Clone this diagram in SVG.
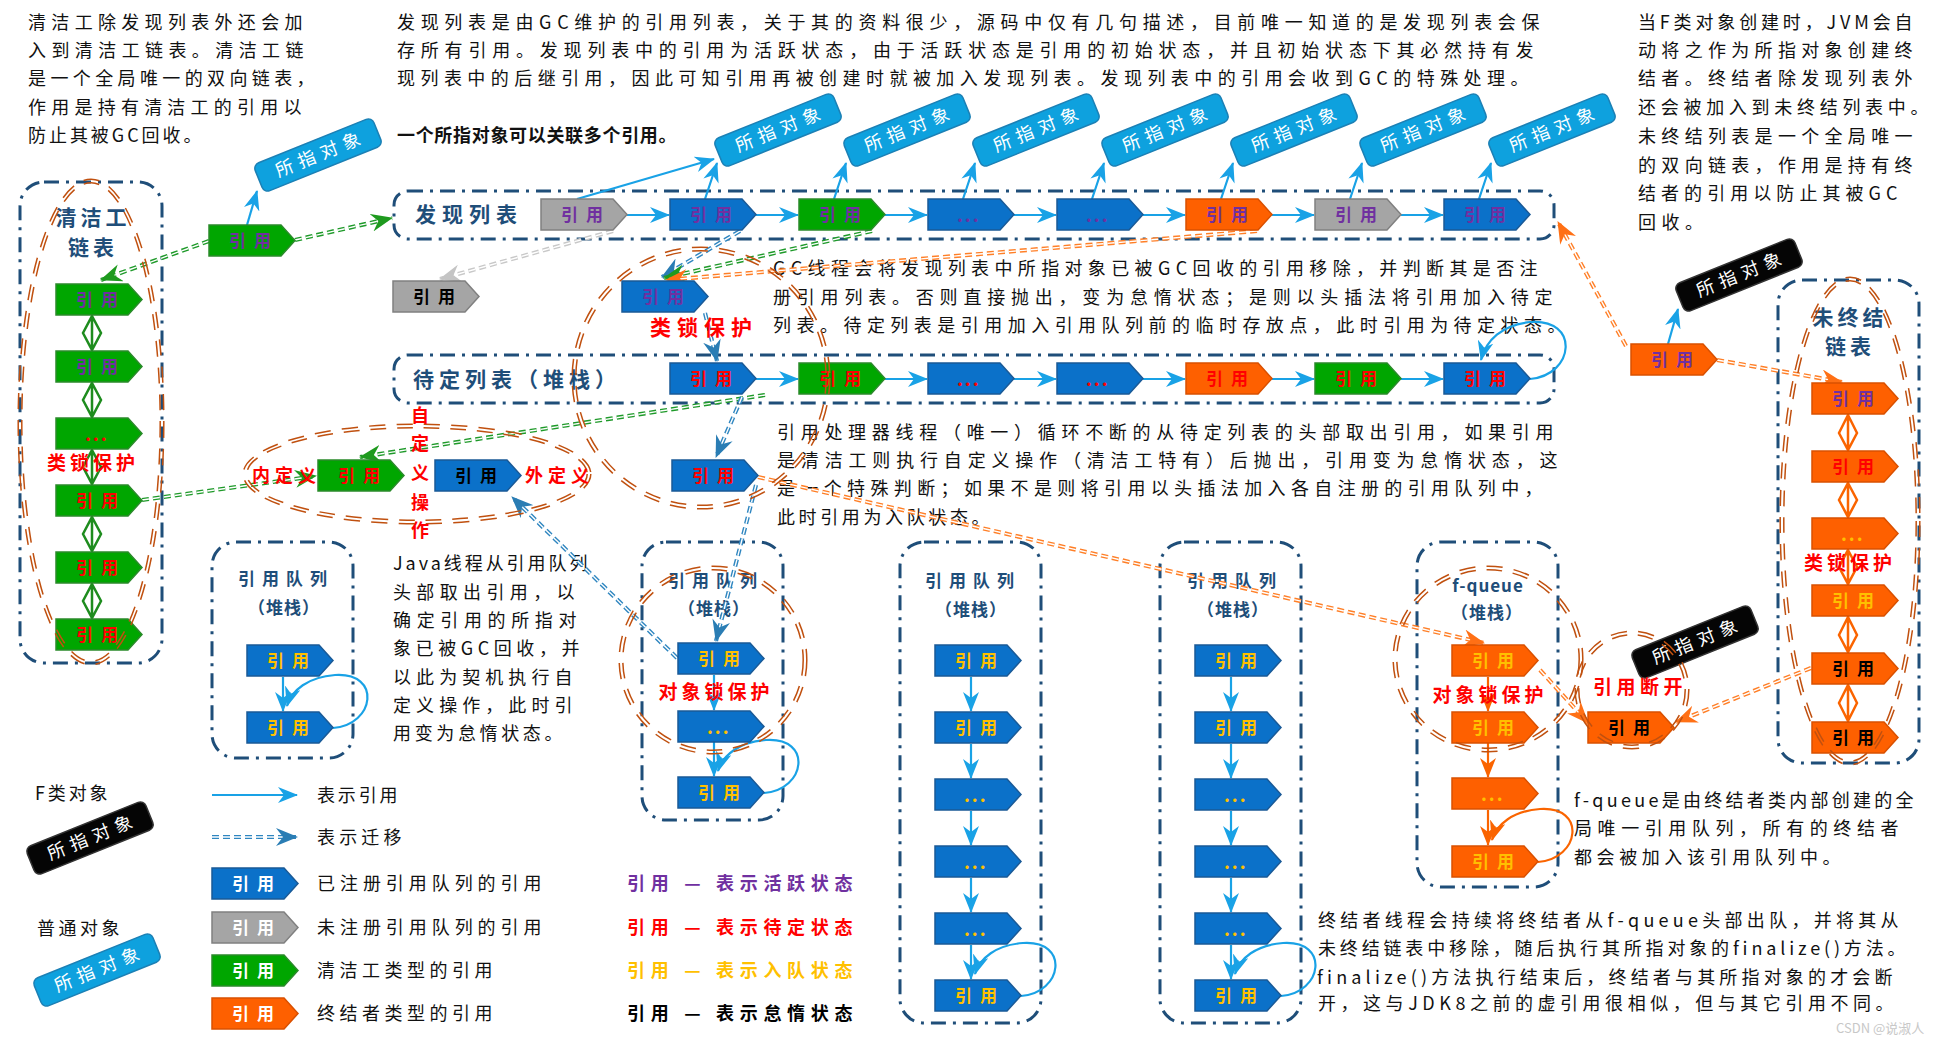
<svg xmlns="http://www.w3.org/2000/svg" width="1946" height="1038" viewBox="0 0 1946 1038">
<style>
text{font-family:"Noto Sans CJK SC","Noto Sans",sans-serif}
.p{font-size:18px;fill:#111;letter-spacing:5.5px}
.pb{font-weight:700}
.lbl{font-size:17px;font-weight:700;letter-spacing:8px}
.dots{font-size:18px;font-weight:700;letter-spacing:2px}
.ttl{font-size:21px;font-weight:700;fill:#1f4e79}
.qt{font-size:17px;font-weight:700;fill:#1f4e79;text-anchor:middle}
.rd{fill:#ff0000;font-weight:700}
.cont{fill:none;stroke:#1f4e79;stroke-width:3;stroke-dasharray:15 7 3 7}
.blue{fill:#0b71c9;stroke:#1a5a97;stroke-width:1.5}
.gray{fill:#a5a5a5;stroke:#808080;stroke-width:1.5}
.green{fill:#00a600;stroke:#2b8a2b;stroke-width:1.5}
.orange{fill:#fe6000;stroke:#d95000;stroke-width:1.5}
.obj{fill:#0ea1de;stroke:#1c80b5;stroke-width:1.5}
.objk{fill:#050505;stroke:#333;stroke-width:1.5}
.ot{font-size:18px;fill:#fff;text-anchor:middle;letter-spacing:6px}
.cp{fill:#7030a0}.cr{fill:#ff0000}.cy{fill:#ffc000}.ck{fill:#000}.cw{fill:#fff}
.ar{fill:none;stroke:#19a2e6;stroke-width:2.2}
.aro{fill:none;stroke:#fa6400;stroke-width:2.2}
.mw{fill:none;stroke:#fff;stroke-width:1.4;stroke-dasharray:7 4}
.mt{fill:none;stroke:#2f86c0;stroke-width:4.2;stroke-dasharray:7 4}
.mgn{fill:none;stroke:#1f9a2a;stroke-width:4.2;stroke-dasharray:7 4}
.mo{fill:none;stroke:#ff7f27;stroke-width:4.2;stroke-dasharray:7 4}
.my{fill:none;stroke:#c8c8c8;stroke-width:4.2;stroke-dasharray:7 4}
.dd{fill:none;stroke:#c0500f;stroke-width:1.5;stroke-dasharray:16 11}
.dg{fill:#fff;stroke:#1e8c1e;stroke-width:2.5}
.do{fill:#fff;stroke:#fa6400;stroke-width:2.5}
</style>
<defs>
<path id="tag" d="M0,0 H72 L86,15.5 L72,31 H0 Z"/>
<marker id="mb" viewBox="0 0 20 16" refX="19" refY="8" markerWidth="20" markerHeight="16" markerUnits="userSpaceOnUse" orient="auto"><path d="M0,0 L20,8 L0,16 L6,8 Z" fill="#19a2e6"/></marker>
<marker id="mor" viewBox="0 0 20 16" refX="19" refY="8" markerWidth="20" markerHeight="16" markerUnits="userSpaceOnUse" orient="auto"><path d="M0,0 L20,8 L0,16 L6,8 Z" fill="#fa6400"/></marker>
<marker id="xt" viewBox="0 0 22 18" refX="21" refY="9" markerWidth="22" markerHeight="18" markerUnits="userSpaceOnUse" orient="auto"><path d="M0,0 L22,9 L0,18 L7,9 Z" fill="#2a7db4"/></marker>
<marker id="xg" viewBox="0 0 22 18" refX="21" refY="9" markerWidth="22" markerHeight="18" markerUnits="userSpaceOnUse" orient="auto"><path d="M0,0 L22,9 L0,18 L7,9 Z" fill="#1e9a1e"/></marker>
<marker id="xo" viewBox="0 0 22 18" refX="21" refY="9" markerWidth="22" markerHeight="18" markerUnits="userSpaceOnUse" orient="auto"><path d="M0,0 L22,9 L0,18 L7,9 Z" fill="#ff7015"/></marker>
<marker id="xy" viewBox="0 0 22 18" refX="21" refY="9" markerWidth="22" markerHeight="18" markerUnits="userSpaceOnUse" orient="auto"><path d="M0,0 L22,9 L0,18 L7,9 Z" fill="#c4c4c4"/></marker>
</defs>
<rect width="1946" height="1038" fill="#fff"/>

<!-- containers -->
<g id="containers">
<rect id="discovered-list" class="cont" x="394" y="191" width="1160" height="48" rx="14"/>
<rect id="pending-list" class="cont" x="394" y="355" width="1160" height="48" rx="14"/>
<rect id="cleaner-chain" class="cont" x="20" y="182" width="142" height="481" rx="24"/>
<rect id="unfinalized-chain" class="cont" x="1778" y="280" width="141" height="483" rx="24"/>
<rect id="queue1" class="cont" x="212" y="542" width="141" height="216" rx="24"/>
<rect id="queue2" class="cont" x="642" y="542" width="141" height="278" rx="24"/>
<rect id="queue3" class="cont" x="900" y="542" width="141" height="481" rx="24"/>
<rect id="queue4" class="cont" x="1160" y="542" width="141" height="481" rx="24"/>
<rect id="fqueue" class="cont" x="1417" y="542" width="141" height="345" rx="24"/>
<text class="ttl" x="415" y="222" letter-spacing="6">发现列表</text>
<text class="ttl" x="413" y="387" letter-spacing="5">待定列表（堆栈）</text>
<text class="ttl" x="93" y="225" text-anchor="middle" font-size="19" letter-spacing="4">清洁工</text>
<text class="ttl" x="93" y="255" text-anchor="middle" font-size="19" letter-spacing="4">链表</text>
<text class="ttl" x="1850" y="325" text-anchor="middle" font-size="19" letter-spacing="4">未终结</text>
<text class="ttl" x="1850" y="354" text-anchor="middle" font-size="19" letter-spacing="4">链表</text>
<text class="qt" x="286" y="585" letter-spacing="7">引用队列</text>
<text class="qt" x="284" y="614" letter-spacing="1">（堆栈）</text>
<text class="qt" x="716" y="587" letter-spacing="7">引用队列</text>
<text class="qt" x="714" y="615" letter-spacing="1">（堆栈）</text>
<text class="qt" x="973" y="587" letter-spacing="7">引用队列</text>
<text class="qt" x="971" y="616" letter-spacing="1">（堆栈）</text>
<text class="qt" x="1235" y="587" letter-spacing="7">引用队列</text>
<text class="qt" x="1233" y="616" letter-spacing="1">（堆栈）</text>
<text class="qt" x="1488" y="592" font-weight="400" letter-spacing="1">f-queue</text>
<text class="qt" x="1487" y="619" letter-spacing="1">（堆栈）</text>
</g>

<!-- paragraphs -->
<g id="notes">
<text class="p" x="28" y="29" textLength="280" lengthAdjust="spacing">清洁工除发现列表外还会加</text>
<text class="p" x="28" y="57" textLength="281" lengthAdjust="spacing">入到清洁工链表。清洁工链</text>
<text class="p" x="28" y="85" textLength="292" lengthAdjust="spacing">是一个全局唯一的双向链表，</text>
<text class="p" x="28" y="114" textLength="279" lengthAdjust="spacing">作用是持有清洁工的引用以</text>
<text class="p" x="28" y="142" textLength="179" lengthAdjust="spacing">防止其被GC回收。</text>

<text class="p" x="397" y="29" textLength="1148" lengthAdjust="spacing">发现列表是由GC维护的引用列表，关于其的资料很少，源码中仅有几句描述，目前唯一知道的是发现列表会保</text>
<text class="p" x="397" y="57" textLength="1142" lengthAdjust="spacing">存所有引用。发现列表中的引用为活跃状态，由于活跃状态是引用的初始状态，并且初始状态下其必然持有发</text>
<text class="p" x="397" y="85" textLength="1137" lengthAdjust="spacing">现列表中的后继引用，因此可知引用再被创建时就被加入发现列表。发现列表中的引用会收到GC的特殊处理。</text>
<text class="p pb" x="397" y="142" textLength="285" lengthAdjust="spacing">一个所指对象可以关联多个引用。</text>

<text class="p" x="1638" y="29" textLength="280" lengthAdjust="spacing">当F类对象创建时，JVM会自</text>
<text class="p" x="1638" y="57" textLength="280" lengthAdjust="spacing">动将之作为所指对象创建终</text>
<text class="p" x="1638" y="85" textLength="280" lengthAdjust="spacing">结者。终结者除发现列表外</text>
<text class="p" x="1638" y="114" textLength="296" lengthAdjust="spacing">还会被加入到未终结列表中。</text>
<text class="p" x="1638" y="143" textLength="280" lengthAdjust="spacing">未终结列表是一个全局唯一</text>
<text class="p" x="1638" y="172" textLength="280" lengthAdjust="spacing">的双向链表，作用是持有终</text>
<text class="p" x="1638" y="200" textLength="265" lengthAdjust="spacing">结者的引用以防止其被GC</text>
<text class="p" x="1638" y="229">回收。</text>

<text class="p" x="773" y="275" textLength="770" lengthAdjust="spacing">GC线程会将发现列表中所指对象已被GC回收的引用移除，并判断其是否注</text>
<text class="p" x="773" y="304" textLength="785" lengthAdjust="spacing">册引用列表。否则直接抛出，变为怠惰状态；是则以头插法将引用加入待定</text>
<text class="p" x="773" y="332" textLength="798" lengthAdjust="spacing">列表。待定列表是引用加入引用队列前的临时存放点，此时引用为待定状态。</text>

<text class="p" x="777" y="439" textLength="782" lengthAdjust="spacing">引用处理器线程（唯一）循环不断的从待定列表的头部取出引用，如果引用</text>
<text class="p" x="777" y="467" textLength="786" lengthAdjust="spacing">是清洁工则执行自定义操作（清洁工特有）后抛出，引用变为怠惰状态，这</text>
<text class="p" x="777" y="495" textLength="771" lengthAdjust="spacing">是一个特殊判断；如果不是则将引用以头插法加入各自注册的引用队列中，</text>
<text class="p" x="777" y="524" textLength="218" lengthAdjust="spacing">此时引用为入队状态。</text>

<text class="p" x="393" y="570" textLength="200" lengthAdjust="spacing">Java线程从引用队列</text>
<text class="p" x="393" y="599" textLength="187" lengthAdjust="spacing">头部取出引用，以</text>
<text class="p" x="393" y="627" textLength="189" lengthAdjust="spacing">确定引用的所指对</text>
<text class="p" x="393" y="655" textLength="192" lengthAdjust="spacing">象已被GC回收，并</text>
<text class="p" x="393" y="684" textLength="185" lengthAdjust="spacing">以此为契机执行自</text>
<text class="p" x="393" y="712" textLength="185" lengthAdjust="spacing">定义操作，此时引</text>
<text class="p" x="393" y="740" textLength="175" lengthAdjust="spacing">用变为怠惰状态。</text>

<text class="p" x="1574" y="807" textLength="345" lengthAdjust="spacing">f-queue是由终结者类内部创建的全</text>
<text class="p" x="1574" y="835" textLength="330" lengthAdjust="spacing">局唯一引用队列，所有的终结者</text>
<text class="p" x="1574" y="864" textLength="272" lengthAdjust="spacing">都会被加入该引用队列中。</text>

<text class="p" x="1318" y="927" textLength="586" lengthAdjust="spacing">终结者线程会持续将终结者从f-queue头部出队，并将其从</text>
<text class="p" x="1318" y="955" textLength="593" lengthAdjust="spacing">未终结链表中移除，随后执行其所指对象的finalize()方法。</text>
<text class="p" x="1317" y="984" textLength="581" lengthAdjust="spacing">finalize()方法执行结束后，终结者与其所指对象的才会断</text>
<text class="p" x="1318" y="1010" textLength="581" lengthAdjust="spacing">开，这与JDK8之前的虚引用很相似，但与其它引用不同。</text>
</g>

<!-- connectors -->
<g id="connectors">
<path class="ar" marker-end="url(#mb)" d="M627,215 H669"/>
<path class="ar" marker-end="url(#mb)" d="M756,215 H798"/>
<path class="ar" marker-end="url(#mb)" d="M885,215 H927"/>
<path class="ar" marker-end="url(#mb)" d="M1014,215 H1056"/>
<path class="ar" marker-end="url(#mb)" d="M1143,215 H1185"/>
<path class="ar" marker-end="url(#mb)" d="M1272,215 H1314"/>
<path class="ar" marker-end="url(#mb)" d="M1401,215 H1443"/>
<path class="ar" marker-end="url(#mb)" d="M756,379 H798"/>
<path class="ar" marker-end="url(#mb)" d="M885,379 H927"/>
<path class="ar" marker-end="url(#mb)" d="M1014,379 H1056"/>
<path class="ar" marker-end="url(#mb)" d="M1143,379 H1185"/>
<path class="ar" marker-end="url(#mb)" d="M1272,379 H1314"/>
<path class="ar" marker-end="url(#mb)" d="M1401,379 H1443"/>
<path class="ar" marker-end="url(#mb)" d="M1530,379 C1575,375 1580,318 1530,322 C1502,325 1486,340 1481,360"/>
<!-- to referents -->
<path class="ar" marker-end="url(#mb)" d="M577,199 L714,159"/>
<path class="ar" marker-end="url(#mb)" d="M705,199 L717,163"/>
<path class="ar" marker-end="url(#mb)" d="M834,199 L846,163"/>
<path class="ar" marker-end="url(#mb)" d="M963,199 L975,163"/>
<path class="ar" marker-end="url(#mb)" d="M1092,199 L1104,163"/>
<path class="ar" marker-end="url(#mb)" d="M1221,199 L1233,163"/>
<path class="ar" marker-end="url(#mb)" d="M1350,199 L1362,163"/>
<path class="ar" marker-end="url(#mb)" d="M1479,199 L1491,163"/>
<path class="ar" marker-end="url(#mb)" d="M247,225 L257,191"/>
<path class="ar" marker-end="url(#mb)" d="M1668,344 L1678,309"/>
<!-- queues -->
<path class="ar" marker-end="url(#mb)" d="M283,677 V711"/>
<path class="ar" marker-end="url(#mb)" d="M333,728 C375,725 382,672 335,675 C308,677 292,690 287,706"/>
<path class="ar" marker-end="url(#mb)" d="M714,675 V710"/>
<path class="ar" marker-end="url(#mb)" d="M714,742 V776"/>
<path class="ar" marker-end="url(#mb)" d="M764,793 C806,790 813,737 766,740 C739,742 723,755 718,771"/>
<path class="ar" marker-end="url(#mb)" d="M971,677 V711"/>
<path class="ar" marker-end="url(#mb)" d="M971,744 V778"/>
<path class="ar" marker-end="url(#mb)" d="M971,811 V845"/>
<path class="ar" marker-end="url(#mb)" d="M971,878 V912"/>
<path class="ar" marker-end="url(#mb)" d="M971,945 V979"/>
<path class="ar" marker-end="url(#mb)" d="M1021,996 C1063,993 1070,940 1023,943 C996,945 980,958 975,974"/>
<path class="ar" marker-end="url(#mb)" d="M1231,677 V711"/>
<path class="ar" marker-end="url(#mb)" d="M1231,744 V778"/>
<path class="ar" marker-end="url(#mb)" d="M1231,811 V845"/>
<path class="ar" marker-end="url(#mb)" d="M1231,878 V912"/>
<path class="ar" marker-end="url(#mb)" d="M1231,945 V979"/>
<path class="ar" marker-end="url(#mb)" d="M1281,996 C1323,993 1330,940 1283,943 C1256,945 1240,958 1235,974"/>
<path class="aro" marker-end="url(#mor)" d="M1488,677 V711"/>
<path class="aro" marker-end="url(#mor)" d="M1488,743 V777"/>
<path class="aro" marker-end="url(#mor)" d="M1488,810 V845"/>
<path class="aro" marker-end="url(#mor)" d="M1538,862 C1580,859 1587,806 1540,809 C1513,811 1497,824 1492,840"/>
<!-- migrations -->
<path class="my" d="M613,231 L440,279"/><path class="mw" marker-end="url(#xy)" d="M613,231 L440,279"/>
<path class="mgn" d="M295,240 L392,218"/><path class="mw" marker-end="url(#xg)" d="M295,240 L392,218"/>
<path class="mgn" d="M209,241 L101,280"/><path class="mw" marker-end="url(#xg)" d="M209,241 L101,280"/>
<path class="mt" d="M740,231 L662,277"/><path class="mw" marker-end="url(#xt)" d="M740,231 L662,277"/>
<path class="mgn" d="M872,231 L664,278"/><path class="mw" marker-end="url(#xg)" d="M872,231 L664,278"/>
<path class="mo" d="M1257,231 L666,280"/><path class="mw" marker-end="url(#xo)" d="M1257,231 L666,280"/>
<path class="mt" d="M705,313 L717,361"/><path class="mw" marker-end="url(#xt)" d="M705,313 L717,361"/>
<path class="mgn" d="M765,395 L360,457"/><path class="mw" marker-end="url(#xg)" d="M765,395 L360,457"/>
<path class="mgn" d="M142,500 L316,476"/><path class="mw" marker-end="url(#xg)" d="M142,500 L316,476"/>
<path class="mt" d="M742,397 L716,457"/><path class="mw" marker-end="url(#xt)" d="M742,397 L716,457"/>
<path class="mt" d="M756,485 L716,641"/><path class="mw" marker-end="url(#xt)" d="M756,485 L716,641"/>
<path class="mo" d="M758,477 L1484,643"/><path class="mw" marker-end="url(#xo)" d="M758,477 L1484,643"/>
<path class="mt" d="M677,658 L512,497"/><path class="mw" marker-end="url(#xt)" d="M677,658 L512,497"/>
<path class="mo" d="M1626,346 L1558,222"/><path class="mw" marker-end="url(#xo)" d="M1626,346 L1558,222"/>
<path class="mo" d="M1717,360 L1842,382"/><path class="mw" marker-end="url(#xo)" d="M1717,360 L1842,382"/>
<path class="mo" d="M1540,670 L1588,723"/><path class="mw" marker-end="url(#xo)" d="M1540,670 L1588,723"/>
<path class="mo" d="M1811,668 L1676,722"/><path class="mw" marker-end="url(#xo)" d="M1811,668 L1676,722"/>
<!-- chain links -->
<path class="dg" d="M92,316 L101,333 L92,350 L83,333 Z M92,318 V348"/>
<path class="dg" d="M92,383 L101,400 L92,417 L83,400 Z M92,385 V415"/>
<path class="dg" d="M92,450 L101,467 L92,484 L83,467 Z M92,452 V482"/>
<path class="dg" d="M92,517 L101,534 L92,551 L83,534 Z M92,519 V549"/>
<path class="dg" d="M92,584 L101,601 L92,618 L83,601 Z M92,586 V616"/>
<path class="do" d="M1848,415 L1857,433 L1848,450 L1839,433 Z M1848,417 V448"/>
<path class="do" d="M1848,483 L1857,500 L1848,517 L1839,500 Z M1848,485 V515"/>
<path class="do" d="M1848,550 L1857,567 L1848,584 L1839,567 Z M1848,552 V582"/>
<path class="do" d="M1848,617 L1857,635 L1848,652 L1839,635 Z M1848,619 V650"/>
<path class="do" d="M1848,685 L1857,703 L1848,721 L1839,703 Z M1848,687 V719"/>
</g>

<!-- discovered list nodes -->
<g id="d1"><use href="#tag" x="541" y="199" class="gray"/><text class="lbl cp" x="561" y="221">引用</text></g>
<g id="d2"><use href="#tag" x="670" y="199" class="blue"/><text class="lbl cp" x="690" y="221">引用</text></g>
<g id="d3"><use href="#tag" x="799" y="199" class="green"/><text class="lbl cp" x="819" y="221">引用</text></g>
<g id="d4"><use href="#tag" x="928" y="199" class="blue"/><text class="dots cp" x="957" y="222">...</text></g>
<g id="d5"><use href="#tag" x="1057" y="199" class="blue"/><text class="dots cp" x="1086" y="222">...</text></g>
<g id="d6"><use href="#tag" x="1186" y="199" class="orange"/><text class="lbl cp" x="1206" y="221">引用</text></g>
<g id="d7"><use href="#tag" x="1315" y="199" class="gray"/><text class="lbl cp" x="1335" y="221">引用</text></g>
<g id="d8"><use href="#tag" x="1444" y="199" class="blue"/><text class="lbl cp" x="1464" y="221">引用</text></g>

<!-- pending list nodes -->
<g id="p1"><use href="#tag" x="670" y="363" class="blue"/><text class="lbl cr" x="690" y="385">引用</text></g>
<g id="p2"><use href="#tag" x="799" y="363" class="green"/><text class="lbl cr" x="819" y="385">引用</text></g>
<g id="p3"><use href="#tag" x="928" y="363" class="blue"/><text class="dots cr" x="957" y="386">...</text></g>
<g id="p4"><use href="#tag" x="1057" y="363" class="blue"/><text class="dots cr" x="1086" y="386">...</text></g>
<g id="p5"><use href="#tag" x="1186" y="363" class="orange"/><text class="lbl cr" x="1206" y="385">引用</text></g>
<g id="p6"><use href="#tag" x="1315" y="363" class="green"/><text class="lbl cr" x="1335" y="385">引用</text></g>
<g id="p7"><use href="#tag" x="1444" y="363" class="blue"/><text class="lbl cr" x="1464" y="385">引用</text></g>

<!-- referents -->
<g id="o0" transform="translate(318,155) rotate(-22)"><rect class="obj" x="-64" y="-15" width="128" height="30" rx="6"/><text class="ot" x="3" y="6">所指对象</text></g>
<g id="o1" transform="translate(778,130) rotate(-22)"><rect class="obj" x="-64" y="-15" width="128" height="30" rx="6"/><text class="ot" x="3" y="6">所指对象</text></g>
<g id="o2" transform="translate(907,130) rotate(-22)"><rect class="obj" x="-64" y="-15" width="128" height="30" rx="6"/><text class="ot" x="3" y="6">所指对象</text></g>
<g id="o3" transform="translate(1036,130) rotate(-22)"><rect class="obj" x="-64" y="-15" width="128" height="30" rx="6"/><text class="ot" x="3" y="6">所指对象</text></g>
<g id="o4" transform="translate(1165,130) rotate(-22)"><rect class="obj" x="-64" y="-15" width="128" height="30" rx="6"/><text class="ot" x="3" y="6">所指对象</text></g>
<g id="o5" transform="translate(1294,130) rotate(-22)"><rect class="obj" x="-64" y="-15" width="128" height="30" rx="6"/><text class="ot" x="3" y="6">所指对象</text></g>
<g id="o6" transform="translate(1423,130) rotate(-22)"><rect class="obj" x="-64" y="-15" width="128" height="30" rx="6"/><text class="ot" x="3" y="6">所指对象</text></g>
<g id="o7" transform="translate(1552,130) rotate(-22)"><rect class="obj" x="-64" y="-15" width="128" height="30" rx="6"/><text class="ot" x="3" y="6">所指对象</text></g>
<g id="ok1" transform="translate(1739,275) rotate(-22)"><rect class="objk" x="-64" y="-15" width="128" height="30" rx="6"/><text class="ot" x="3" y="6">所指对象</text></g>
<g id="ok2" transform="translate(1695,642) rotate(-22)"><rect class="objk" x="-64" y="-15" width="128" height="30" rx="6"/><text class="ot" x="3" y="6">所指对象</text></g>

<!-- other nodes -->
<g id="cleaner-ref"><use href="#tag" x="209" y="225" class="green"/><text class="lbl cp" x="229" y="247">引用</text></g>
<g id="unreg-ref"><use href="#tag" x="393" y="281" class="gray"/><text class="lbl ck" x="413" y="303">引用</text></g>
<g id="gc-ref"><use href="#tag" x="622" y="281" class="blue"/><text class="lbl cp" x="642" y="303">引用</text></g>
<g id="proc-ref"><use href="#tag" x="672" y="460" class="blue"/><text class="lbl cr" x="692" y="482">引用</text></g>
<g id="custom-in"><use href="#tag" x="318" y="460" class="green"/><text class="lbl cr" x="338" y="482">引用</text></g>
<g id="custom-out"><use href="#tag" x="435" y="460" class="blue"/><text class="lbl ck" x="455" y="482">引用</text></g>
<g id="final-ref"><use href="#tag" x="1631" y="344" class="orange"/><text class="lbl cp" x="1651" y="366">引用</text></g>
<g id="broken-ref"><use href="#tag" x="1588" y="712" class="orange"/><text class="lbl ck" x="1608" y="734">引用</text></g>

<!-- cleaner chain -->
<g id="c1"><use href="#tag" x="56" y="284" class="green"/><text class="lbl cp" x="76" y="306">引用</text></g>
<g id="c2"><use href="#tag" x="56" y="351" class="green"/><text class="lbl cp" x="76" y="373">引用</text></g>
<g id="c3"><use href="#tag" x="56" y="418" class="green"/><text class="dots cr" x="85" y="441">...</text></g>
<g id="c4"><use href="#tag" x="56" y="485" class="green"/><text class="lbl cr" x="76" y="507">引用</text></g>
<g id="c5"><use href="#tag" x="56" y="552" class="green"/><text class="lbl cr" x="76" y="574">引用</text></g>
<g id="c6"><use href="#tag" x="56" y="619" class="green"/><text class="lbl cr" x="76" y="641">引用</text></g>

<!-- unfinalized chain -->
<g id="u1"><use href="#tag" x="1812" y="383" class="orange"/><text class="lbl cp" x="1832" y="405">引用</text></g>
<g id="u2"><use href="#tag" x="1812" y="451" class="orange"/><text class="lbl cr" x="1832" y="473">引用</text></g>
<g id="u3"><use href="#tag" x="1812" y="518" class="orange"/><text class="dots cy" x="1841" y="541">...</text></g>
<g id="u4"><use href="#tag" x="1812" y="585" class="orange"/><text class="lbl cy" x="1832" y="607">引用</text></g>
<g id="u5"><use href="#tag" x="1812" y="653" class="orange"/><text class="lbl ck" x="1832" y="675">引用</text></g>
<g id="u6"><use href="#tag" x="1812" y="722" class="orange"/><text class="lbl ck" x="1832" y="744">引用</text></g>

<!-- queues -->
<g id="q1a"><use href="#tag" x="247" y="645" class="blue"/><text class="lbl cy" x="267" y="667">引用</text></g>
<g id="q1b"><use href="#tag" x="247" y="712" class="blue"/><text class="lbl cy" x="267" y="734">引用</text></g>
<g id="q2a"><use href="#tag" x="678" y="643" class="blue"/><text class="lbl cy" x="698" y="665">引用</text></g>
<g id="q2b"><use href="#tag" x="678" y="711" class="blue"/><text class="dots cy" x="707" y="734">...</text></g>
<g id="q2c"><use href="#tag" x="678" y="777" class="blue"/><text class="lbl cy" x="698" y="799">引用</text></g>
<g id="q3a"><use href="#tag" x="935" y="645" class="blue"/><text class="lbl cy" x="955" y="667">引用</text></g>
<g id="q3b"><use href="#tag" x="935" y="712" class="blue"/><text class="lbl cy" x="955" y="734">引用</text></g>
<g id="q3c"><use href="#tag" x="935" y="779" class="blue"/><text class="dots cy" x="964" y="802">...</text></g>
<g id="q3d"><use href="#tag" x="935" y="846" class="blue"/><text class="dots cy" x="964" y="869">...</text></g>
<g id="q3e"><use href="#tag" x="935" y="913" class="blue"/><text class="dots cy" x="964" y="936">...</text></g>
<g id="q3f"><use href="#tag" x="935" y="980" class="blue"/><text class="lbl cy" x="955" y="1002">引用</text></g>
<g id="q4a"><use href="#tag" x="1195" y="645" class="blue"/><text class="lbl cy" x="1215" y="667">引用</text></g>
<g id="q4b"><use href="#tag" x="1195" y="712" class="blue"/><text class="lbl cy" x="1215" y="734">引用</text></g>
<g id="q4c"><use href="#tag" x="1195" y="779" class="blue"/><text class="dots cy" x="1224" y="802">...</text></g>
<g id="q4d"><use href="#tag" x="1195" y="846" class="blue"/><text class="dots cy" x="1224" y="869">...</text></g>
<g id="q4e"><use href="#tag" x="1195" y="913" class="blue"/><text class="dots cy" x="1224" y="936">...</text></g>
<g id="q4f"><use href="#tag" x="1195" y="980" class="blue"/><text class="lbl cy" x="1215" y="1002">引用</text></g>
<g id="f1"><use href="#tag" x="1452" y="645" class="orange"/><text class="lbl cy" x="1472" y="667">引用</text></g>
<g id="f2"><use href="#tag" x="1452" y="712" class="orange"/><text class="lbl cy" x="1472" y="734">引用</text></g>
<g id="f3"><use href="#tag" x="1452" y="778" class="orange"/><text class="dots cy" x="1481" y="801">...</text></g>
<g id="f4"><use href="#tag" x="1452" y="846" class="orange"/><text class="lbl cy" x="1472" y="868">引用</text></g>

<!-- lock ellipses (double dashed) -->
<g id="locks">
<ellipse class="dd" cx="91" cy="422" rx="72.8" ry="242.8" pathLength="1054"/><ellipse class="dd" cx="91" cy="422" rx="69.2" ry="239.2" pathLength="1054"/>
<ellipse class="dd" cx="1850" cy="521" rx="69.8" ry="243.8" pathLength="1050"/><ellipse class="dd" cx="1850" cy="521" rx="66.2" ry="240.2" pathLength="1050"/>
<ellipse class="dd" cx="417" cy="474" rx="173.8" ry="49.8" pathLength="747"/><ellipse class="dd" cx="417" cy="474" rx="170.2" ry="46.2" pathLength="747"/>
<ellipse class="dd" cx="701" cy="378" rx="128.8" ry="130.8" pathLength="804"/><ellipse class="dd" cx="701" cy="378" rx="125.2" ry="127.2" pathLength="804"/>
<ellipse class="dd" cx="713" cy="660" rx="93.8" ry="93.8" pathLength="578"/><ellipse class="dd" cx="713" cy="660" rx="90.2" ry="90.2" pathLength="578"/>
<ellipse class="dd" cx="1488" cy="659" rx="94.8" ry="92.8" pathLength="578"/><ellipse class="dd" cx="1488" cy="659" rx="91.2" ry="89.2" pathLength="578"/>
<ellipse class="dd" cx="1632" cy="690" rx="56.8" ry="58.8" pathLength="352"/><ellipse class="dd" cx="1632" cy="690" rx="53.2" ry="55.2" pathLength="352"/>
</g>

<!-- red annotations -->
<g id="annotations">
<text class="rd" x="93" y="470" font-size="19" text-anchor="middle" letter-spacing="4">类锁保护</text>
<text class="rd" x="704" y="335" font-size="21" text-anchor="middle" letter-spacing="6">类锁保护</text>
<text class="rd" x="252" y="482" font-size="18" letter-spacing="5">内定义</text>
<text class="rd" x="525" y="482" font-size="18" letter-spacing="5">外定义</text>
<text class="rd" x="420" y="422" font-size="18" text-anchor="middle">自</text>
<text class="rd" x="420" y="450" font-size="18" text-anchor="middle">定</text>
<text class="rd" x="420" y="479" font-size="18" text-anchor="middle">义</text>
<text class="rd" x="420" y="509" font-size="18" text-anchor="middle">操</text>
<text class="rd" x="420" y="537" font-size="18" text-anchor="middle">作</text>
<text class="rd" x="716" y="699" font-size="19" text-anchor="middle" letter-spacing="4">对象锁保护</text>
<text class="rd" x="1490" y="702" font-size="19" text-anchor="middle" letter-spacing="4">对象锁保护</text>
<text class="rd" x="1640" y="694" font-size="19" text-anchor="middle" letter-spacing="4.5">引用断开</text>
<text class="rd" x="1850" y="570" font-size="19" text-anchor="middle" letter-spacing="4">类锁保护</text>
</g>

<!-- legend -->
<g id="legend">
<text class="p" x="35" y="800" textLength="78" lengthAdjust="spacing">F类对象</text>
<g id="leg-fobj" transform="translate(90,838) rotate(-22)"><rect class="objk" x="-64" y="-15" width="128" height="30" rx="6"/><text class="ot" x="3" y="6">所指对象</text></g>
<text class="p" x="37" y="935" textLength="88" lengthAdjust="spacing">普通对象</text>
<g id="leg-obj" transform="translate(97,970) rotate(-22)"><rect class="obj" x="-64" y="-15" width="128" height="30" rx="6"/><text class="ot" x="3" y="6">所指对象</text></g>
<path class="ar" marker-end="url(#mb)" d="M212,795 H297"/>
<text class="p" x="317" y="802" textLength="86" lengthAdjust="spacing">表示引用</text>
<path class="mt" d="M212,837 H297"/><path class="mw" marker-end="url(#xt)" d="M212,837 H297"/>
<text class="p" x="317" y="844" textLength="90" lengthAdjust="spacing">表示迁移</text>
<g id="leg-blue"><use href="#tag" x="212" y="868" class="blue"/><text class="lbl cw" x="232" y="890">引用</text></g>
<g id="leg-gray"><use href="#tag" x="212" y="912" class="gray"/><text class="lbl cw" x="232" y="934">引用</text></g>
<g id="leg-green"><use href="#tag" x="212" y="955" class="green"/><text class="lbl cw" x="232" y="977">引用</text></g>
<g id="leg-orange"><use href="#tag" x="212" y="998" class="orange"/><text class="lbl cw" x="232" y="1020">引用</text></g>
<text class="p" x="317" y="890" textLength="230" lengthAdjust="spacing">已注册引用队列的引用</text>
<text class="p" x="317" y="934" textLength="230" lengthAdjust="spacing">未注册引用队列的引用</text>
<text class="p" x="317" y="977" textLength="181" lengthAdjust="spacing">清洁工类型的引用</text>
<text class="p" x="317" y="1020" textLength="181" lengthAdjust="spacing">终结者类型的引用</text>
<text class="p pb" x="627" y="890" textLength="231" lengthAdjust="spacing" style="fill:#7030a0">引用 — 表示活跃状态</text>
<text class="p pb" x="627" y="934" textLength="231" lengthAdjust="spacing" style="fill:#ff0000">引用 — 表示待定状态</text>
<text class="p pb" x="627" y="977" textLength="231" lengthAdjust="spacing" style="fill:#ffc000">引用 — 表示入队状态</text>
<text class="p pb" x="627" y="1020" textLength="231" lengthAdjust="spacing" style="fill:#000">引用 — 表示怠惰状态</text>
</g>
<text x="1836" y="1033" font-size="13" fill="#c8c8c8">CSDN @说淑人</text>
</svg>
